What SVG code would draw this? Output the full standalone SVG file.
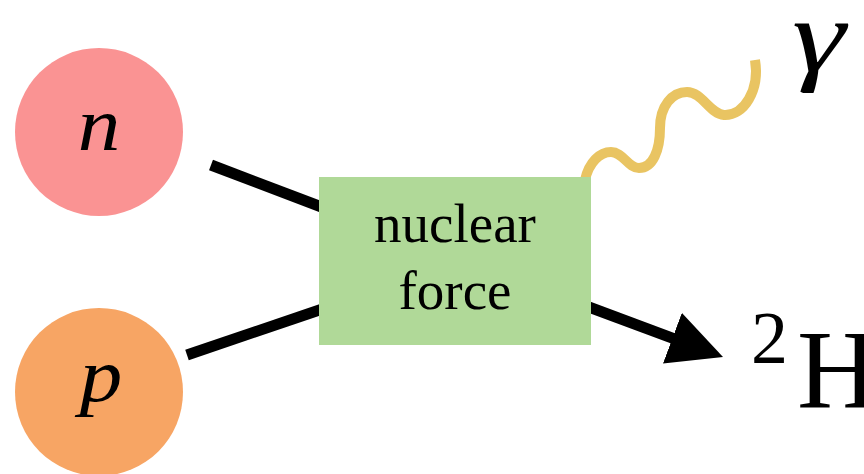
<svg xmlns="http://www.w3.org/2000/svg" width="864" height="474" viewBox="0 0 864 474">
  <style>
    .leg { stroke: #000; stroke-width: 11; fill: none; stroke-linecap: butt; }
    .photon { stroke: #e9c462; stroke-width: 10; fill: none; stroke-linecap: butt; }
    .math { font-family: "Liberation Serif", "DejaVu Serif", serif; font-style: italic; fill: #000; }
    .roman { font-family: "Liberation Serif", "DejaVu Serif", serif; fill: #000; }
  </style>
  <defs>
    <marker id="head" markerUnits="userSpaceOnUse" viewBox="0 0 54 54" refX="5" refY="27" markerWidth="54" markerHeight="54" orient="auto">
      <path d="M0,0 L54,27 L0,54 Z" fill="#000"/>
    </marker>
  </defs>
  <rect width="864" height="474" fill="#fff"/>

  <!-- connectors: incoming nucleons, outgoing deuteron, emitted photon -->
  <g id="connectors">
    <line class="leg" x1="211" y1="165" x2="340" y2="214"/>
    <line class="leg" x1="187" y1="355" x2="340" y2="303"/>
    <line class="leg" x1="570" y1="300" x2="677.1" y2="339.9" marker-end="url(#head)"/>
    <path class="photon" d="M585,180 C589,162 600,152 611,152 C623,152 628,168 639,168 C653,168 660,150 660,128 C660,106 672,92 687,92 C702,92 710,114 724,115 C744,116 760,90 755,60"/>
  </g>

  <g id="neutron">
    <circle cx="99" cy="132" r="84" fill="#fa9393"/>
    <text class="math" x="99" y="150" font-size="76" text-anchor="middle" transform="translate(99 0) scale(1.12 1) translate(-99 0)">n</text>
  </g>

  <g id="proton">
    <circle cx="99" cy="392" r="84" fill="#f7a564"/>
    <text class="math" x="101" y="401" font-size="76" text-anchor="middle" transform="translate(101 0) scale(1.12 1) translate(-101 0)">p</text>
  </g>

  <g id="nuclear-force">
    <rect x="319" y="177" width="272" height="168" fill="#b0d998"/>
    <text class="roman" x="455" y="242" font-size="55" text-anchor="middle">nuclear</text>
    <text class="roman" x="455" y="309" font-size="55" text-anchor="middle">force</text>
  </g>

  <g id="gamma">
    <text class="math" x="0" y="71" font-size="104" transform="translate(792 0) scale(1.3 1)">γ</text>
  </g>

  <g id="deuteron">
    <text class="roman" x="751" y="363" font-size="74">2</text>
    <text class="roman" x="797" y="407" font-size="112">H</text>
  </g>
</svg>
